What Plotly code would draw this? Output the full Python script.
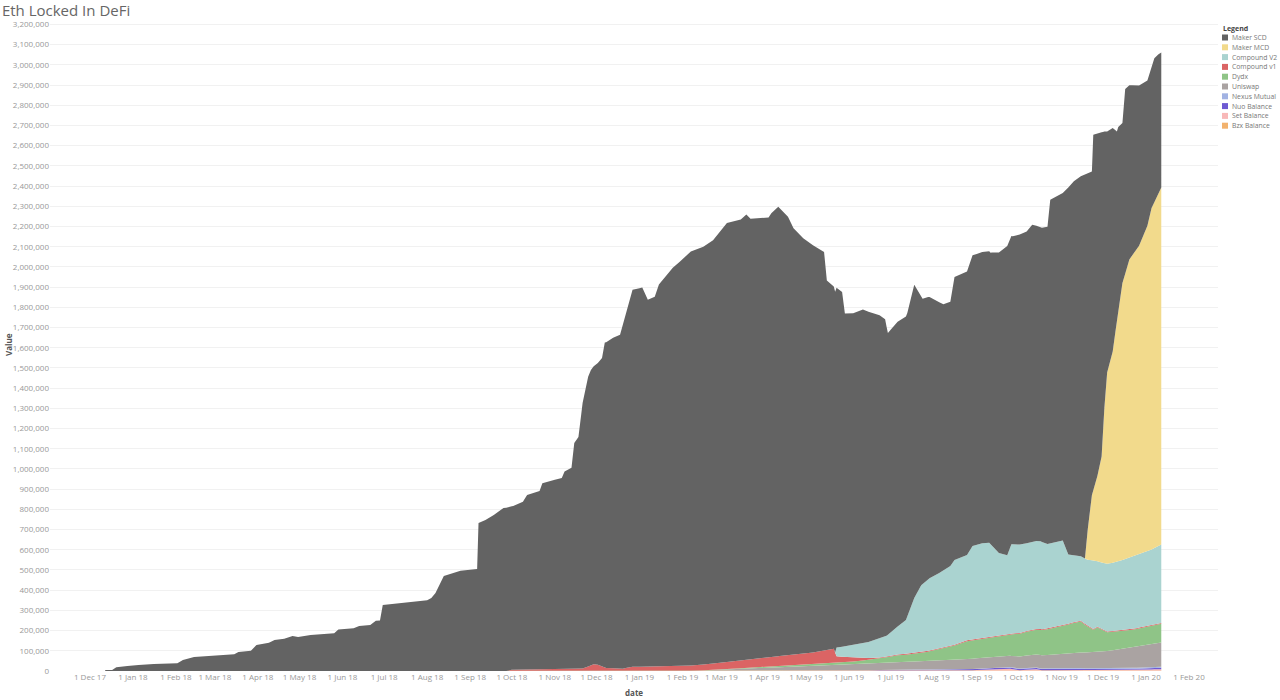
import plotly.graph_objects as go
import datetime as dt

# ---------------- DATA (ETH locked) ----------------
scd_dates = ["2017-12-12","2017-12-17","2017-12-20","2017-12-23","2017-12-28","2018-01-05","2018-01-16",
    "2018-02-02","2018-02-06","2018-02-14","2018-03-01","2018-03-15","2018-03-18","2018-03-27","2018-03-31",
    "2018-04-09","2018-04-13","2018-04-20","2018-04-26","2018-04-30","2018-05-09","2018-05-16","2018-05-26",
    "2018-05-29","2018-06-09","2018-06-13","2018-06-21","2018-06-25","2018-06-28","2018-06-30","2018-07-13",
    "2018-08-01","2018-08-04","2018-08-07","2018-08-13","2018-08-25","2018-09-06","2018-09-07","2018-09-12",
    "2018-09-18","2018-09-25","2018-10-02","2018-10-09","2018-10-12","2018-10-21","2018-10-23","2018-11-06",
    "2018-11-08","2018-11-13","2018-11-15","2018-11-18","2018-11-21","2018-11-25","2018-11-27","2018-12-02",
    "2018-12-05","2018-12-07","2018-12-13","2018-12-18","2018-12-23","2018-12-27","2019-01-03","2019-01-07",
    "2019-01-12","2019-01-15","2019-01-21","2019-01-25","2019-01-30","2019-02-07","2019-02-16","2019-02-23",
    "2019-03-05","2019-03-15","2019-03-19","2019-03-22","2019-04-04","2019-04-06","2019-04-11","2019-04-18",
    "2019-04-22","2019-04-29","2019-05-06","2019-05-14","2019-05-16","2019-05-22","2019-05-27","2019-05-29",
    "2019-06-04","2019-06-11","2019-06-23","2019-06-27","2019-06-29","2019-07-06","2019-07-13","2019-07-18",
    "2019-07-24","2019-07-29","2019-08-08","2019-08-13","2019-08-16","2019-08-25","2019-08-29","2019-09-11",
    "2019-09-23","2019-09-27","2019-10-07","2019-10-11","2019-10-17","2019-10-22","2019-10-24","2019-11-02",
    "2019-11-06","2019-11-09","2019-11-15","2019-11-18","2019-11-20","2019-11-23","2019-11-24","2019-11-27",
    "2019-11-30","2019-12-02","2019-12-04","2019-12-08","2019-12-11","2019-12-12","2019-12-15","2019-12-17",
    "2019-12-20","2019-12-27","2020-01-02","2020-01-05","2020-01-07","2020-01-10","2020-01-12"]
scd_values = [5000,5000,18000,22000,25000,30000,35000,
    38000,54000,69000,76000,83000,94000,100000,129000,
    140000,153000,160000,173000,168000,178000,183000,187000,
    206000,211000,223000,228000,249000,250000,327000,335000,
    350000,361000,386000,470000,496000,505000,732000,747000,
    772000,807000,810000,831000,864000,884000,922000,947000,
    979000,997000,1120000,1149000,1315000,1433000,1462000,1494000,
    1527000,1608000,1636000,1653000,1772000,1866000,1876000,1815000,
    1830000,1890000,1938000,1972000,2001000,2049000,2068000,2095000,
    2172000,2183000,2205000,2182000,2178000,2197000,2224000,2169000,
    2110000,2055000,2016000,1973000,1829000,1786000,1755000,1647000,
    1641000,1651000,1600000,1570000,1493000,1508000,1502000,1551000,
    1411000,1393000,1317000,1308000,1401000,1403000,1439000,1443000,
    1530000,1525000,1543000,1570000,1551000,1570000,1700000,1720000,
    1816000,1843000,1881000,1901000,1765000,1602000,1759000,1695000,
    1605000,1367000,1193000,1106000,938000,910000,793000,914000,
    862000,793000,719000,694000,713000,689000,668000]

mcd_dates = ["2017-12-12","2019-11-18","2019-11-20","2019-11-23","2019-11-27","2019-11-30","2019-12-02",
    "2019-12-04","2019-12-08","2019-12-12","2019-12-15","2019-12-20","2019-12-27","2020-01-02","2020-01-05","2020-01-12"]
mcd_values = [0,0,150000,322000,424000,525000,770000,
    947000,1045000,1240000,1370000,1475000,1527000,1613000,1690000,1767000]

cv2_dates = ["2017-12-12","2019-05-22","2019-05-23","2019-06-01","2019-06-15","2019-06-25","2019-06-28",
    "2019-07-05","2019-07-12","2019-07-18","2019-07-23","2019-07-28","2019-08-05","2019-08-13","2019-08-16",
    "2019-08-25","2019-08-29","2019-09-05","2019-09-10","2019-09-17","2019-09-23","2019-09-26","2019-10-07",
    "2019-10-17","2019-10-22","2019-11-02","2019-11-06","2019-11-15","2019-11-20","2019-11-24","2019-11-27",
    "2019-12-04","2019-12-12","2019-12-22","2020-01-02","2020-01-12"]
cv2_values = [0,0,44000,57000,79000,97000,102000,
    134000,167000,272000,332000,355000,374000,397000,419000,
    422000,462000,469000,464000,408000,392000,442000,434000,
    435000,418000,420000,342000,319000,327000,339000,324000,
    335000,342000,359000,367000,388000]

cv1_dates = ["2017-12-12","2018-09-27","2018-10-01","2018-11-01","2018-11-20","2018-11-29","2018-12-02",
    "2018-12-08","2018-12-20","2018-12-26","2019-01-20","2019-02-05","2019-02-20","2019-03-05","2019-03-20",
    "2019-04-05","2019-04-20","2019-05-05","2019-05-15","2019-05-21","2019-05-23","2019-06-01","2019-06-15",
    "2019-06-25","2019-07-05","2020-01-12"]
cv1_values = [0,0,6000,8000,9000,33000,30000,
    14000,10000,20000,22000,24000,29000,35000,39000,
    46000,52000,56000,65000,71000,32000,23000,9000,
    5000,4000,4000]

dydx_dates = ["2017-12-12","2019-02-05","2019-02-20","2019-03-05","2019-03-20","2019-04-05","2019-04-20",
    "2019-05-05","2019-05-21","2019-05-23","2019-06-01","2019-06-15","2019-06-25","2019-07-05","2019-07-12",
    "2019-07-23","2019-08-05","2019-08-13","2019-08-25","2019-09-10","2019-09-23","2019-10-07","2019-10-22",
    "2019-11-02","2019-11-15","2019-11-20","2019-11-24","2019-11-27","2019-12-04","2019-12-22","2020-01-12"]
dydx_values = [0,0,1000,2000,3000,4000,4000,
    5000,6000,7000,10000,17000,21000,33000,35000,
    40000,55000,64000,89000,97000,103000,118000,128000,
    137000,154000,128000,111000,121000,93000,85000,93000]

uni_dates = ["2017-12-12","2018-11-02","2019-01-01","2019-02-05","2019-02-20","2019-03-05","2019-03-20",
    "2019-04-05","2019-04-20","2019-05-05","2019-05-23","2019-06-15","2019-07-05","2019-08-05","2019-08-25",
    "2019-09-10","2019-09-23","2019-10-07","2019-10-22","2019-11-02","2019-11-15","2019-12-01","2019-12-22","2020-01-12"]
uni_values = [0,0,1000,2000,4000,8000,13000,
    17000,22000,27000,31000,35000,37000,44000,50000,
    53000,55000,62000,66000,71000,76000,82000,103000,120000]

nexus_dates = ["2017-12-12","2019-06-15","2019-07-01","2019-09-01","2019-11-01","2020-01-12"]
nexus_values = [0,0,1000,2000,3000,5000]

nuo_dates = ["2017-12-12","2019-04-05","2019-04-12","2019-06-15","2019-07-01","2019-09-01","2019-10-01",
    "2019-11-01","2019-12-01","2020-01-12"]
nuo_values = [0,0,2000,3000,5000,5000,6000,6000,5000,7000]

set_dates = ["2017-12-12","2019-08-25","2019-09-05","2019-09-12","2019-09-25","2019-10-02","2019-10-10",
    "2019-10-14","2019-10-18","2019-11-01","2019-11-10","2019-11-18","2019-12-10","2019-12-25","2020-01-12"]
set_values = [0,0,4000,8000,9000,2000,5000,7000,2000,3000,6000,3000,2000,3000,6000]

bzx_dates = ["2017-12-12","2019-06-01","2019-07-01","2019-09-01","2019-12-01","2020-01-12"]
bzx_values = [0,0,1000,2000,2000,3000]

# legend order (top to bottom) and colours
series_names = ["Maker SCD","Maker MCD","Compound V2","Compound v1","Dydx","Uniswap",
                "Nexus Mutual","Nuo Balance","Set Balance","Bzx Balance"]
series_colors = ["#636363","#F2DA8C","#AAD3D0","#DB6464","#8FC487","#AAA3A2",
                 "#A2B3E3","#6E5AD2","#F8B8B8","#F2B26E"]
series_data = {
    "Maker SCD": (scd_dates, scd_values),
    "Maker MCD": (mcd_dates, mcd_values),
    "Compound V2": (cv2_dates, cv2_values),
    "Compound v1": (cv1_dates, cv1_values),
    "Dydx": (dydx_dates, dydx_values),
    "Uniswap": (uni_dates, uni_values),
    "Nexus Mutual": (nexus_dates, nexus_values),
    "Nuo Balance": (nuo_dates, nuo_values),
    "Set Balance": (set_dates, set_values),
    "Bzx Balance": (bzx_dates, bzx_values),
}

# month ticks
tick_dates = []
y, m = 2017, 12
while (y, m) <= (2020, 2):
    tick_dates.append(dt.date(y, m, 1))
    m += 1
    if m > 12:
        m, y = 1, y + 1
tick_vals = [d.isoformat() for d in tick_dates]
tick_text = [f"{d.day} {d.strftime('%b %y')}" for d in tick_dates]

# ---------------- FIGURE ----------------
W, H = 1280, 700
L, R, T, B = 50, 62, 20, 29
PW, PH = W - L - R, H - T - B

def px_x(px):
    return (px - L) / PW

def px_y(py):
    return (H - B - py) / PH

fig = go.Figure()
color_of = dict(zip(series_names, series_colors))
for name in reversed(series_names):  # bottom of stack first
    xs, ys = series_data[name]
    fig.add_trace(go.Scatter(
        x=xs, y=ys, name=name, mode="lines",
        stackgroup="eth", stackgaps="interpolate",
        line=dict(width=0, color=color_of[name]),
        fillcolor=color_of[name], showlegend=False,
        hovertemplate="%{x|%d %b %y}<br>" + name + ": %{y:,}<extra></extra>",
    ))

font_main = "Open Sans"
fig.update_layout(
    width=W, height=H,
    margin=dict(l=L, r=R, t=T, b=B),
    paper_bgcolor="white", plot_bgcolor="white",
    font=dict(family=font_main, size=8, color="#888888"),
    title=dict(text="Eth Locked In DeFi", x=0.0015, xref="container", xanchor="left",
               y=1 - 11 / H, yref="container", yanchor="middle",
               font=dict(family=font_main, size=15, color="#666666")),
    showlegend=False,
    xaxis=dict(type="date", range=["2017-11-02 05:00", "2020-02-21 21:00"],
               tickmode="array", tickvals=tick_vals, ticktext=tick_text,
               showgrid=False, zeroline=False, showline=False, ticks="",
               tickfont=dict(size=8, color="#999999")),
    yaxis=dict(range=[0, 3222000], dtick=100000, tickformat=",d",
               showgrid=True, gridcolor="#F1F1F1", gridwidth=1,
               zeroline=False, showline=False, ticks="",
               tickfont=dict(size=8, color="#999999")),
)

annotations = [
    dict(text="<b>date</b>", x=px_x(634), y=px_y(692), xref="paper", yref="paper",
         showarrow=False, xanchor="center", yanchor="middle",
         font=dict(size=8, color="#555555")),
    dict(text="<b>Value</b>", x=px_x(8), y=px_y(345), xref="paper", yref="paper",
         showarrow=False, xanchor="center", yanchor="middle", textangle=-90,
         font=dict(size=8, color="#555555")),
    dict(text="<b>Legend</b>", x=px_x(1221), y=px_y(28), xref="paper", yref="paper",
         showarrow=False, xanchor="left", yanchor="middle",
         font=dict(size=7, color="#444444")),
]
shapes = []
for i, (name, col) in enumerate(zip(series_names, series_colors)):
    cy = 37.5 + i * 9.8
    shapes.append(dict(type="rect", xref="paper", yref="paper",
                       x0=px_x(1222), x1=px_x(1228), y0=px_y(cy + 3), y1=px_y(cy - 3),
                       fillcolor=col, line=dict(width=0)))
    annotations.append(dict(text=name, x=px_x(1229.5), y=px_y(cy), xref="paper", yref="paper",
                            showarrow=False, xanchor="left", yanchor="middle",
                            font=dict(size=6.8, color="#777777")))
fig.update_layout(annotations=annotations, shapes=shapes)

fig.write_html("out.html",
               config={"displayModeBar": False},
               post_script="document.body.style.margin='0';document.body.style.padding='0';"
                           "document.body.style.overflow='hidden';")
